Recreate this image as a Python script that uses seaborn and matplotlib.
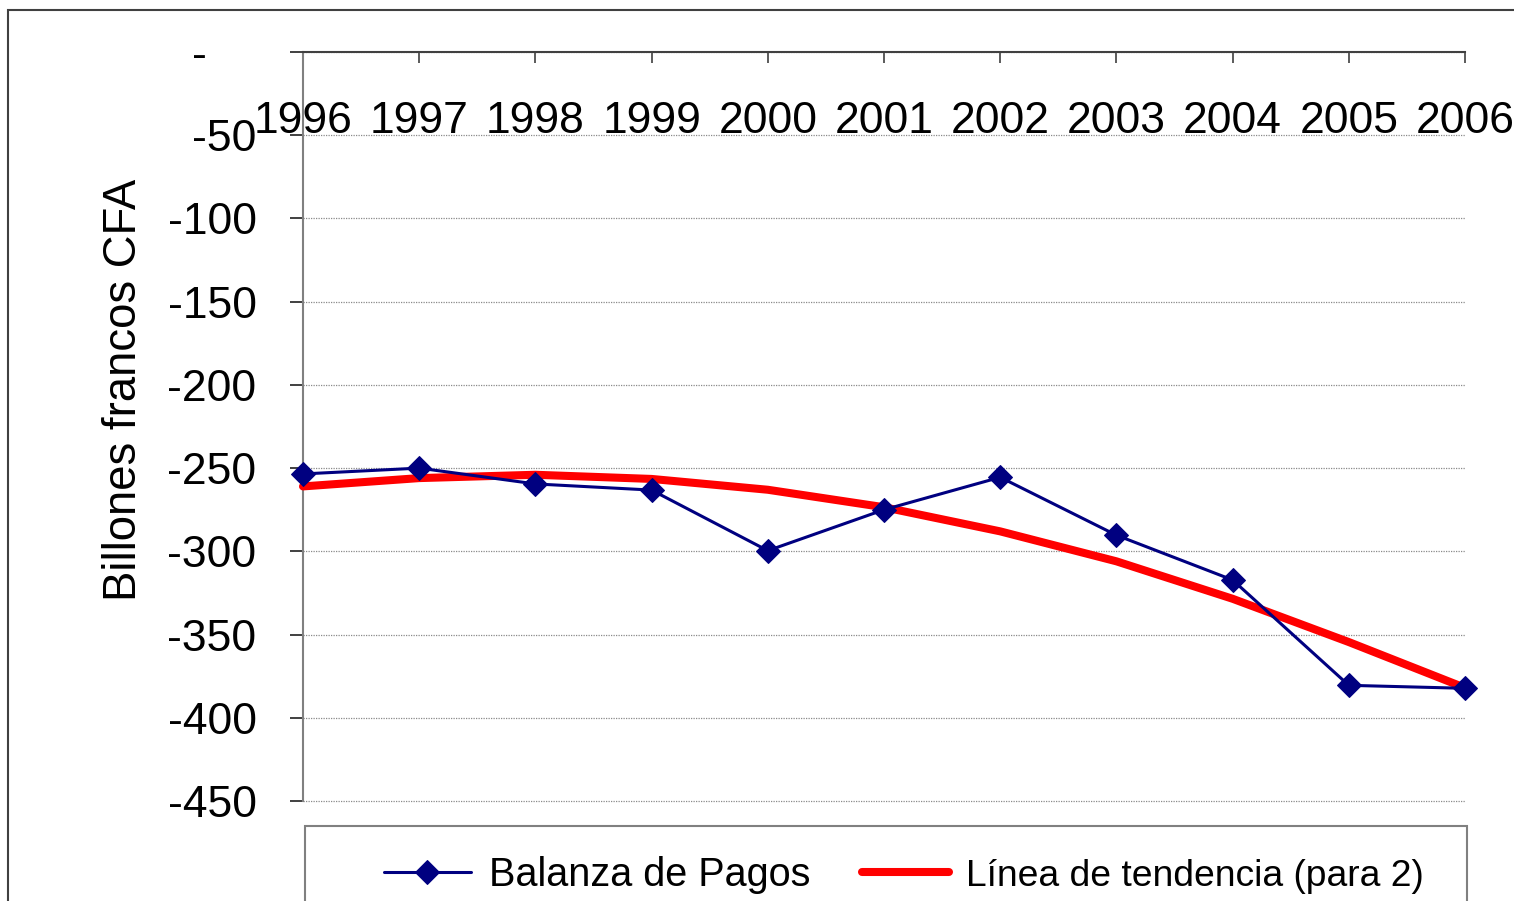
import matplotlib
matplotlib.use("Agg")
import matplotlib.pyplot as plt
import matplotlib.patches as mpatches
import seaborn as sns
import pandas as pd

years = [1996, 1997, 1998, 1999, 2000, 2001, 2002, 2003, 2004, 2005, 2006]
balanza = [-253.5, -250, -259.5, -263.2, -299.6, -275, -255.5, -290.3, -317.2, -380.5, -382.3]
tendencia = [-261, -256, -254, -256.5, -263, -273.5, -288, -306, -328.5, -354.5, -382]
yticks = [0, -50, -100, -150, -200, -250, -300, -350, -400, -450]
ytick_labels = ["-    ", "-50", "-100", "-150", "-200", "-250", "-300", "-350", "-400", "-450"]
ylabel = "Billones francos CFA"
label_balanza = "Balanza de Pagos"
label_tend = "Línea de tendencia (para 2)"

sns.set_theme(style="white")
plt.rcParams["font.family"] = ["Liberation Sans", "DejaVu Sans"]
plt.rcParams["text.color"] = "black"
plt.rcParams["axes.labelcolor"] = "black"

df = pd.DataFrame({"year": years, "balanza": balanza, "tend": tendencia})

fig = plt.figure(figsize=(15.14, 9.01), dpi=100)
ax = fig.add_axes([303/1514, 1-801/901, (1465-303)/1514, (801-52)/901])

sns.lineplot(data=df, x="year", y="tend", ax=ax, color="#FF0000", linewidth=5.8,
             label=label_tend, clip_on=False, zorder=3)
sns.lineplot(data=df, x="year", y="balanza", ax=ax, color="#000080", linewidth=2.2,
             marker="D", markersize=12.5, markeredgecolor="#000080", markerfacecolor="#000080",
             label=label_balanza, clip_on=False, zorder=4)

ax.set_xlim(1996, 2006)
ax.set_ylim(-450, 0)
ax.set_xticks(years)
ax.set_xticklabels([str(y) for y in years])
ax.set_yticks(yticks)
ax.set_yticklabels(ytick_labels)
ax.set_xlabel("")
ax.set_ylabel(ylabel, fontsize=32.8, color="black")
ax.yaxis.set_label_coords(-0.135, 0.549)

ax.xaxis.set_ticks_position("top")
ax.tick_params(axis="x", top=True, bottom=False, labeltop=True, labelbottom=False,
               direction="in", length=8, width=1.2, color="#404040",
               labelsize=32, pad=-65, labelcolor="black")
ax.tick_params(axis="y", left=True, direction="out", length=9.4, width=1.2,
               color="#202020", labelsize=32, pad=24, labelcolor="black")

ax.grid(False)
ax.yaxis.grid(True, color="#8a8a8a", linestyle=(0, (1, 1)), linewidth=0.9)
ax.set_axisbelow(True)
for gl in ax.get_ygridlines():
    gl.set_clip_on(False)

for s in ["right", "bottom"]:
    ax.spines[s].set_visible(False)
ax.spines["top"].set_color("#404040")
ax.spines["top"].set_linewidth(1.5)
ax.spines["left"].set_color("#808080")
ax.spines["left"].set_linewidth(1.5)

handles, labels = ax.get_legend_handles_labels()
order = [labels.index(label_balanza), labels.index(label_tend)]
leg = fig.legend([handles[i] for i in order], [labels[i] for i in order],
                 loc="center left", bbox_to_anchor=(364/1514, 1-875/901),
                 ncol=2, frameon=False, fontsize=28.5, borderpad=0,
                 handlelength=2.2, handletextpad=0.45, columnspacing=1.3)
for t in leg.get_texts():
    t.set_color("black")
leg.get_texts()[1].set_fontsize(26.8)
ax.get_legend().remove()

# legend frame (partially cut off at bottom)
fig.patches.append(mpatches.Rectangle((305/1514, -0.1), (1467-305)/1514, 0.1 + (1-826/901),
                                      transform=fig.transFigure, fill=False,
                                      edgecolor="#808080", linewidth=1.5))
# chart area border
fig.patches.append(mpatches.Rectangle((8/1514, -0.1), 1.2, 0.1 + (1-10/901),
                                      transform=fig.transFigure, fill=False,
                                      edgecolor="#404040", linewidth=1.5))

fig.savefig("out.png", dpi=100)
